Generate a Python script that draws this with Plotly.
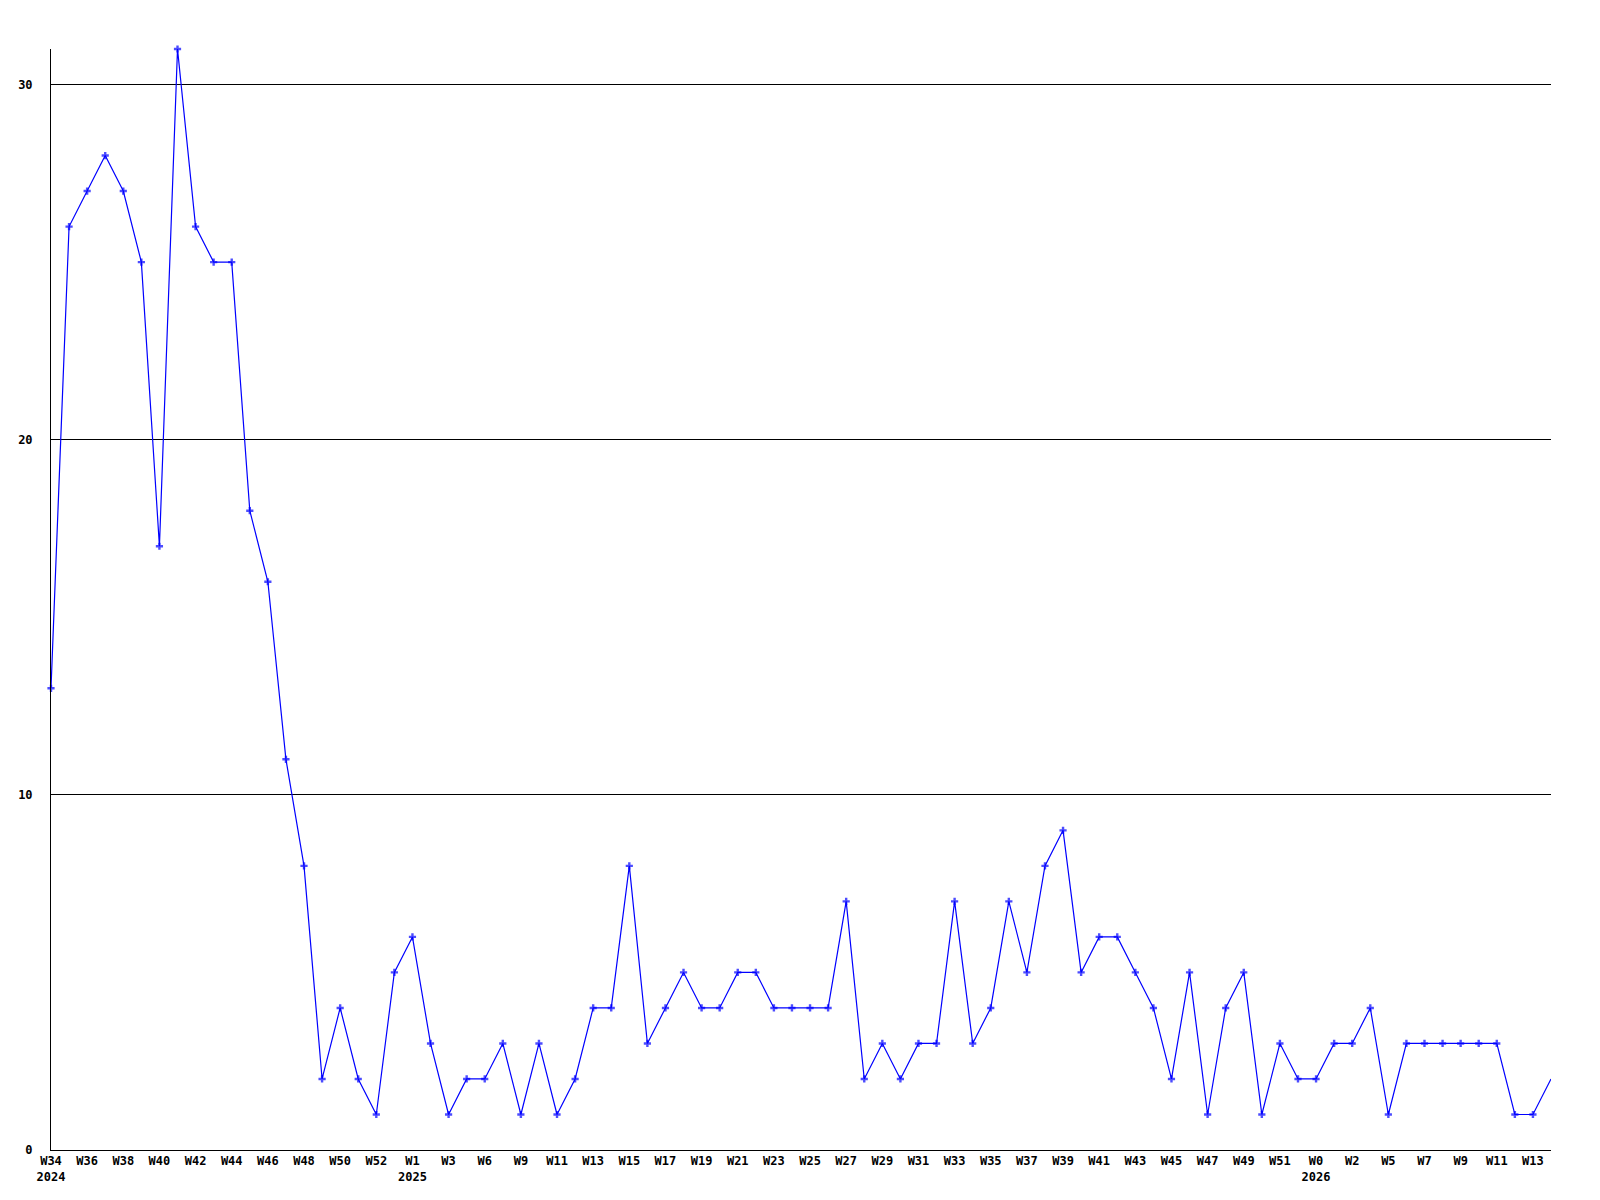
import plotly.graph_objects as go

values = [13, 26, 27, 28, 27, 25, 17, 31, 26, 25, 25, 18, 16, 11, 8, 2, 4, 2, 1, 5,
          6, 3, 1, 2, 2, 3, 1, 3, 1, 2, 4, 4, 8, 3, 4, 5, 4, 4, 5, 5,
          4, 4, 4, 4, 7, 2, 3, 2, 3, 3, 7, 3, 4, 7, 5, 8, 9, 5, 6, 6,
          5, 4, 2, 5, 1, 4, 5, 1, 3, 2, 2, 3, 3, 4, 1, 3, 3, 3, 3, 3,
          3, 1, 1, 2]

week_labels = ["W34", "W36", "W38", "W40", "W42", "W44", "W46", "W48", "W50", "W52",
               "W1", "W3", "W6", "W9", "W11", "W13", "W15", "W17", "W19", "W21",
               "W23", "W25", "W27", "W29", "W31", "W33", "W35", "W37", "W39", "W41",
               "W43", "W45", "W47", "W49", "W51", "W0", "W2", "W5", "W7", "W9",
               "W11", "W13"]
year_labels = {0: "2024", 20: "2025", 70: "2026"}
y_ticks = [0, 10, 20, 30]

x = list(range(len(values)))
tickvals = list(range(0, 2 * len(week_labels), 2))
ticktext = []
for tv, wl in zip(tickvals, week_labels):
    ticktext.append(wl + ("<br>" + year_labels[tv] if tv in year_labels else ""))

sizes = [6] * len(values)
sizes[-1] = 0

fig = go.Figure()
fig.add_trace(go.Scatter(
    x=x, y=values, mode="lines+markers",
    line=dict(color="#0000FF", width=1.2),
    marker=dict(symbol="cross", size=sizes, color="#0000FF", line=dict(width=0)),
    cliponaxis=False, showlegend=False,
))

font = dict(family="DejaVu Sans Mono", size=12, color="black", weight="bold")
fig.update_layout(
    width=1600, height=1200,
    margin=dict(l=43, r=57, t=41, b=58),
    paper_bgcolor="white", plot_bgcolor="white",
    font=font,
    xaxis=dict(range=[0, len(values) - 1], tickvals=tickvals, ticktext=ticktext,
               showgrid=False, zeroline=False, showline=True, linecolor="black",
               linewidth=1, ticks="", tickfont=font, tickangle=0, ticklabelstandoff=0,
               automargin=False),
    yaxis=dict(range=[0, 31], tickvals=y_ticks, showgrid=True, gridcolor="black",
               gridwidth=1, zeroline=False, showline=True, linecolor="black",
               linewidth=1, ticks="", tickfont=font, ticklabelstandoff=15,
               automargin=False),
)

fig.write_html("out.html")
